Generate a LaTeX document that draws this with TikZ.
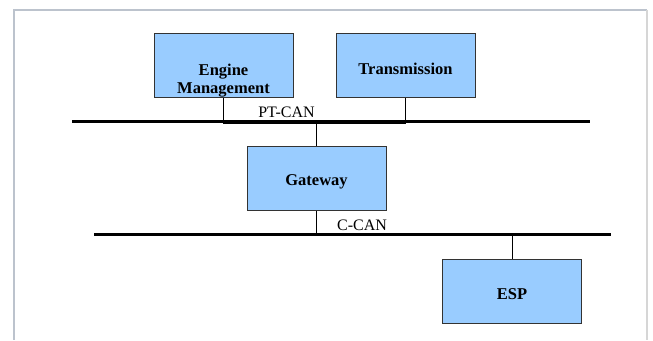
\documentclass[tikz,border=0pt]{standalone}
\usepackage{fontspec}
\setmainfont{Liberation Serif}
\definecolor{boxblue}{HTML}{99CCFF}
\definecolor{frameA}{HTML}{BCC3CD}
\definecolor{frameB}{HTML}{D6D6D6}
\begin{document}
\begin{tikzpicture}[x=1pt,y=-1pt,
  ecu/.style={draw=black!80,fill=boxblue,line width=0.9pt,minimum width=139pt,minimum height=64pt,inner sep=0pt},
  ecutext/.style={font=\fontsize{16.5}{17.5}\selectfont\bfseries,align=center,inner sep=0pt},
  bus/.style={line width=3pt},
  drop/.style={line width=0.9pt},
  buslabel/.style={font=\fontsize{16}{18}\selectfont,inner sep=0pt}]
\useasboundingbox (0,0) rectangle (653,340);
\fill[white] (0,0) rectangle (653,340);
% frame
\draw[frameA,line width=2pt] (14,10) -- (14,340);
\draw[frameA,line width=2pt] (13,10) -- (647,10);
\draw[frameB,line width=1.5pt] (647,10) -- (647,340);
% ECUs
\node[ecu] (eng) at (223.5,65.5) {};
\begin{scope}
\clip (eng.north west) rectangle ([yshift=-5pt]eng.south east);
\node[ecutext] (engtxt) at (223.5,80.5) {Engine\\Management};
\end{scope}
\node[ecu] (trans) at (405.5,65.5) {};
\node[ecutext] (transtxt) at (405.5,68.5) {Transmission};
\node[ecu] (gw) at (316.5,178.5) {};
\node[ecutext] (gwtxt) at (316.5,181.5) {Gateway};
\node[ecu] (esp) at (512,291.5) {};
\node[ecutext] (esptxt) at (512,294) {ESP};
% buses
\coordinate (ptL) at (72,121);
\coordinate (ptR) at (590,121);
\coordinate (cL) at (94,234);
\coordinate (cR) at (611,234);
\draw[bus] (ptL) -- (ptR);
\draw[bus] (cL) -- (cR);
\node[buslabel] (ptlabel) at (286.5,112) {PT-CAN};
\node[buslabel] (clabel) at (362,225) {C-CAN};
% drops
\coordinate (e1) at (eng.south |- 0,123);
\coordinate (t1) at (trans.south |- 0,123);
\draw[drop] (eng.south) -- (e1) -- (t1) -- (trans.south);
\coordinate (g1) at (gw.north |- 0,121);
\draw[line width=1.8pt] (g1) -- (gw.north);
\coordinate (g2) at (gw.south |- 0,235.5);
\coordinate (s2) at (esp.north |- 0,235.5);
\draw[drop] (gw.south) -- (g2) -- (s2) -- (esp.north);
\end{tikzpicture}
\end{document}
